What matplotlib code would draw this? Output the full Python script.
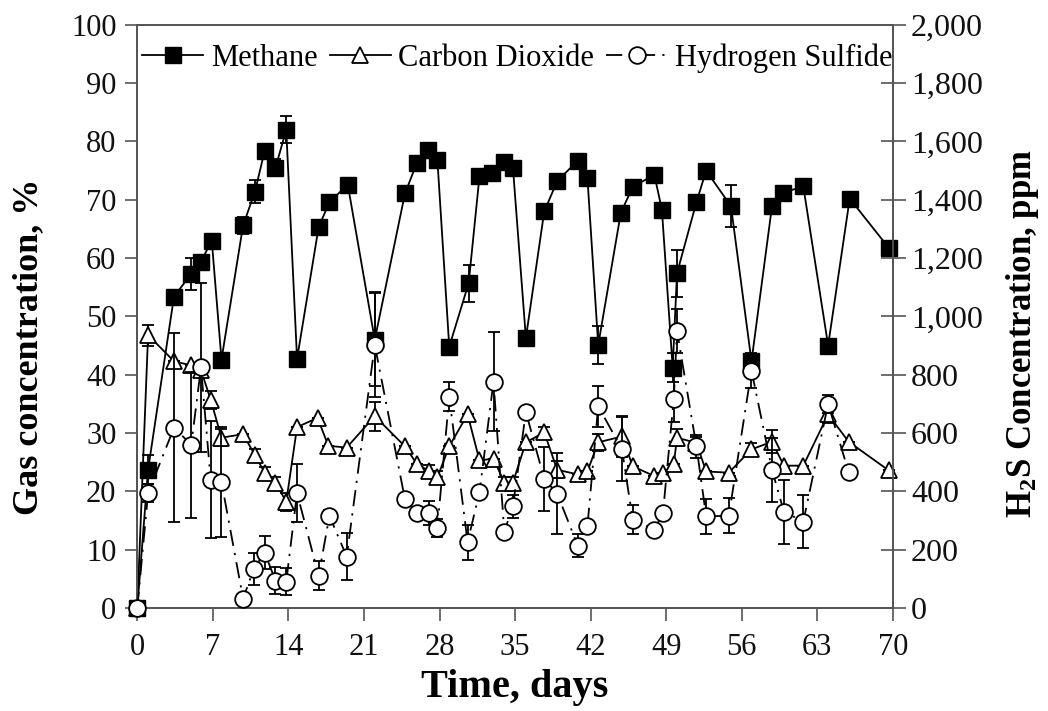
import matplotlib
matplotlib.use("Agg")
import matplotlib.pyplot as plt
from matplotlib.lines import Line2D
from matplotlib.ticker import FuncFormatter, MultipleLocator

plt.rcParams['font.family'] = ['Liberation Serif', 'DejaVu Serif']
plt.rcParams['mathtext.fontset'] = 'custom'
plt.rcParams['mathtext.rm'] = 'Liberation Serif'
plt.rcParams['mathtext.bf'] = 'Liberation Serif:bold'

# ---- data ----
ch4_days = [0, 1, 3.4, 5, 5.9, 6.9, 7.8, 9.8, 10.9, 11.8, 12.8, 13.8, 14.8, 16.8, 17.8, 19.5,
            22, 24.8, 25.9, 26.9, 27.8, 28.9, 30.7, 31.7, 32.9, 34, 34.8, 36, 37.7, 38.9,
            40.8, 41.7, 42.7, 44.8, 45.9, 47.9, 48.6, 49.6, 50, 51.8, 52.7, 55, 56.9,
            58.8, 59.8, 61.7, 64, 66, 69.6]
ch4_vals = [0, 23.7, 53.4, 57.3, 59.4, 63.0, 42.6, 65.6, 71.4, 78.4, 75.5, 82.0, 42.7, 65.3, 69.6, 72.6,
            46.0, 71.1, 76.3, 78.5, 76.9, 44.8, 55.7, 74.0, 74.6, 76.5, 75.5, 46.3, 68.0, 73.2,
            76.7, 73.8, 45.1, 67.8, 72.2, 74.3, 68.3, 41.2, 57.4, 69.6, 75.0, 68.9, 42.3,
            68.9, 71.2, 72.3, 45.0, 70.2, 61.8]
ch4_err = [0, 2.5, 0, 2.7, 0, 0, 0, 1.5, 2.0, 0, 1.5, 2.3, 0, 0, 0, 0,
           8.0, 0, 0, 0, 0, 0, 3.2, 0, 0, 0, 1.0, 0, 0, 0,
           0, 0, 3.2, 0, 0, 0, 1.2, 2.5, 4.0, 0, 0, 3.6, 1.0,
           0, 0, 0, 0, 0, 0]

co2_days = [0, 1, 3.4, 5, 5.9, 6.8, 7.8, 9.8, 10.9, 11.8, 12.8, 13.8, 14.8, 16.7, 17.7, 19.4,
            22, 24.8, 25.9, 27, 27.8, 28.9, 30.6, 31.7, 33, 34, 34.8, 36, 37.7, 38.9,
            40.8, 41.7, 42.7, 44.9, 45.9, 47.9, 48.7, 49.7, 50, 51.8, 52.7, 54.8, 56.9,
            58.8, 59.9, 61.7, 64, 65.9, 69.6]
co2_vals = [0, 46.8, 42.3, 41.6, 40.8, 35.7, 29.2, 29.8, 26.2, 23.2, 21.5, 18.2, 31.0, 32.6, 27.8, 27.5,
            32.9, 27.7, 24.7, 23.5, 22.4, 27.7, 33.2, 25.3, 25.6, 21.5, 21.5, 28.4, 30.1, 23.7,
            22.9, 23.4, 28.4, 29.4, 24.3, 22.6, 23.2, 24.6, 29.2, 28.3, 23.4, 23.2, 27.2,
            28.5, 24.4, 24.4, 33.2, 28.5, 23.6]
co2_err = [0, 1.8, 0, 0, 0, 1.5, 1.5, 0, 1.0, 1.0, 1.0, 1.5, 0, 0, 0, 0,
           2.5, 0, 0, 1.0, 1.0, 0, 0, 0, 0, 1.0, 1.0, 0, 1.0, 1.5,
           0, 0, 1.5, 3.5, 0, 0, 0, 0, 1.5, 1.0, 0, 0, 1.0,
           2.0, 0, 0, 1.5, 0, 0]

h2s_days = [0, 1, 3.4, 5, 5.9, 6.8, 7.8, 9.8, 10.8, 11.8, 12.8, 13.8, 14.8, 16.8, 17.8, 19.4,
            22, 24.8, 25.9, 27, 27.8, 28.9, 30.6, 31.7, 33, 34, 34.8, 36, 37.7, 38.9,
            40.8, 41.7, 42.7, 44.9, 45.9, 47.9, 48.7, 49.7, 50, 51.8, 52.7, 54.8, 56.9,
            58.8, 59.9, 61.7, 64, 65.9]
h2s_vals = [0, 394, 618, 560, 825, 440, 432, 32, 134, 190, 94, 90, 394, 110, 316, 176,
            902, 372, 326, 326, 274, 724, 226, 396, 776, 262, 348, 672, 442, 392,
            214, 280, 692, 544, 302, 268, 326, 718, 950, 554, 314, 316, 814,
            474, 330, 296, 700, 466]
h2s_err = [0, 30, 325, 250, 290, 200, 190, 0, 56, 56, 48, 46, 98, 50, 20, 80,
           180, 0, 0, 40, 30, 50, 60, 0, 170, 0, 40, 0, 110, 140,
           40, 0, 70, 110, 50, 0, 0, 80, 75, 40, 60, 60, 60,
           110, 110, 90, 30, 0]

x_ticks = [0, 7, 14, 21, 28, 35, 42, 49, 56, 63, 70]
labels = ['Methane', 'Carbon Dioxide', 'Hydrogen Sulfide']

# ---- figure ----
fig = plt.figure(figsize=(10.48, 7.11), dpi=100)
ax = fig.add_axes([0.131, 0.145, 0.721, 0.82])
ax2 = ax.twinx()

lw = 1.3
h2s_ls = (0, (9, 4, 1.2, 4))
eb = dict(capsize=4, elinewidth=1.3, capthick=1.3, ecolor='black')

styles = [
    dict(marker='s', markersize=11, markerfacecolor='black', markeredgecolor='black', linestyle='-'),
    dict(marker='^', markersize=11, markerfacecolor='white', markeredgecolor='black',
         markeredgewidth=1.3, linestyle='-'),
    dict(marker='o', markersize=12, markerfacecolor='white', markeredgecolor='black',
         markeredgewidth=1.3, linestyle=h2s_ls),
]

for art in [
    ax.errorbar(ch4_days, ch4_vals, yerr=ch4_err, color='black', lw=lw, zorder=3, **styles[0], **eb),
    ax.errorbar(co2_days, co2_vals, yerr=co2_err, color='black', lw=lw, zorder=4, **styles[1], **eb),
    ax2.errorbar(h2s_days, h2s_vals, yerr=h2s_err, color='black', lw=lw, zorder=5, **styles[2], **eb),
]:
    for child in art.get_children():
        child.set_clip_on(False)

ax.set_xlim(0, 70)
ax.set_ylim(0, 100)
ax2.set_ylim(0, 2000)
ax.set_xticks(x_ticks)
ax.yaxis.set_major_locator(MultipleLocator(10))
ax2.yaxis.set_major_locator(MultipleLocator(200))
ax2.yaxis.set_major_formatter(FuncFormatter(lambda v, p: f"{int(v):,}"))

spine_c = '#555555'
for a in (ax, ax2):
    for s in a.spines.values():
        s.set_color(spine_c)
        s.set_linewidth(1.3)
ax.tick_params(axis='y', which='major', direction='out', length=9, width=1.2,
               color=spine_c, labelsize=22, pad=6)
ax.tick_params(axis='x', which='major', direction='out', length=9, width=1.2,
               color=spine_c, labelsize=22, pad=9)
ax2.tick_params(axis='y', direction='inout', length=18, width=1.2, color=spine_c,
                labelsize=23, pad=4)
for lab in ax.get_xticklabels() + ax.get_yticklabels() + ax2.get_yticklabels():
    lab.set_color('#111111')

ax.set_xlabel('Time, days', fontsize=29, fontweight='bold')
ax.set_ylabel('Gas concentration, %', fontsize=26, fontweight='bold')
ax2.set_ylabel(r'$\mathbf{H_2S}$ Concentration, ppm', fontsize=25, fontweight='bold')
ax.xaxis.set_label_coords(0.5, -0.104)
ax.yaxis.set_label_coords(-0.122, 0.448)
ax2.yaxis.set_label_coords(1.147, 0.47)

ax.set_zorder(ax2.get_zorder() - 1)
ax.patch.set_visible(True)
ax2.patch.set_visible(False)

handles = [Line2D([], [], color='black', lw=lw, **st) for st in styles]
ax2.legend(handles, labels, loc='upper center', bbox_to_anchor=(0.503, 1.005), ncol=3,
           frameon=False, fontsize=22, handlelength=2.0, handletextpad=0.25,
           columnspacing=0.4, borderaxespad=0.3)

fig.savefig('out.png', dpi=100)
